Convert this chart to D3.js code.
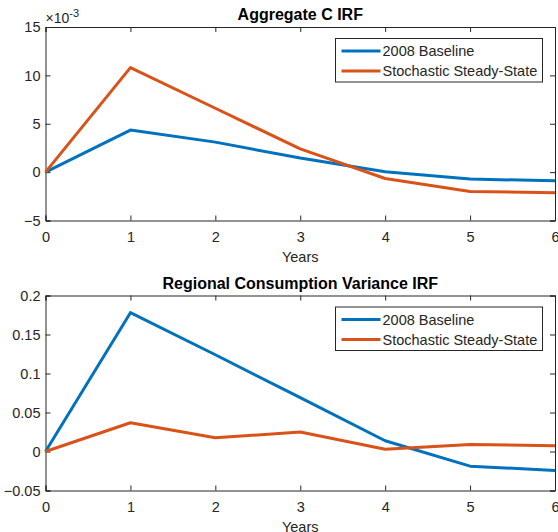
<!DOCTYPE html>
<html>
<head>
<meta charset="utf-8">
<script src="https://cdn.jsdelivr.net/npm/d3@7"></script>
<style>
  body { margin: 0; background: #fff; }
  text { font-family: "Liberation Sans", Arial, sans-serif; fill: #262626; }
</style>
</head>
<body>
<div id="chart"></div>
<script>
// data
var years = [0, 1, 2, 3, 4, 5, 6];
var seriesNames = ["2008 Baseline", "Stochastic Steady-State"];
var colors = ["#0072BD", "#D95319"];

// Aggregate C IRF, values in units of 1e-3
var aggBaseline = [0, 4.35, 3.1, 1.45, 0.03, -0.72, -0.9];
var aggStochastic = [0, 10.8, 6.6, 2.4, -0.66, -2.0, -2.14];
var aggTicks = [-5, 0, 5, 10, 15];

// Regional consumption variance IRF
var regBaseline = [0, 0.178, 0.124, 0.069, 0.0138, -0.0188, -0.0243];
var regStochastic = [0, 0.0369, 0.0176, 0.0249, 0.003, 0.0091, 0.0073];
var regTicks = [-0.05, 0, 0.05, 0.1, 0.15, 0.2];

var svgWidth = 558, svgHeight = 532;
var svg = d3.select("#chart").append("svg")
  .attr("width", svgWidth)
  .attr("height", svgHeight);

var left = 45.5, right = 555;
var fontSize = "14.5px";

function drawPanel(opts) {
  var x = d3.scaleLinear().domain([0, 6]).range([left, right]);
  var y = d3.scaleLinear().domain(opts.domain).range([opts.bottom, opts.top]);
  var g = svg.append("g");

  // ticks (inside, mirrored)
  var xAxis = d3.axisBottom(x).tickValues(years).tickSize(-5).tickPadding(11.5).tickFormat(d3.format("d"));
  var xAxisTop = d3.axisTop(x).tickValues(years).tickSize(-5).tickFormat("");
  var yAxis = d3.axisLeft(y).tickValues(opts.ticks).tickSize(-5).tickPadding(5).tickFormat(opts.fmt);
  var yAxisRight = d3.axisRight(y).tickValues(opts.ticks).tickSize(-5).tickFormat("");

  var axes = [
    g.append("g").attr("transform", "translate(0," + opts.bottom + ")").call(xAxis),
    g.append("g").attr("transform", "translate(0," + opts.top + ")").call(xAxisTop),
    g.append("g").attr("transform", "translate(" + left + ",0)").call(yAxis),
    g.append("g").attr("transform", "translate(" + right + ",0)").call(yAxisRight)
  ];
  axes.forEach(function(a) {
    a.select(".domain").attr("stroke", "#262626");
    a.selectAll(".tick line").attr("stroke", "#262626");
    a.selectAll("text").attr("font-size", fontSize).attr("fill", "#262626")
      .style("font-family", "'Liberation Sans', Arial, sans-serif");
  });

  // lines
  var line = d3.line().x(function(d, i) { return x(years[i]); }).y(function(d) { return y(d); });
  opts.series.forEach(function(s, i) {
    g.append("path")
      .datum(s)
      .attr("d", line)
      .attr("fill", "none")
      .attr("stroke", colors[i])
      .attr("stroke-width", 3)
      .attr("stroke-linejoin", "round");
  });

  // title
  g.append("text")
    .attr("x", (left + right) / 2)
    .attr("y", opts.top - 7)
    .attr("text-anchor", "middle")
    .attr("font-size", "16px")
    .attr("font-weight", "bold")
    .style("fill", "#000")
    .text(opts.title);

  // x label
  g.append("text")
    .attr("x", (left + right) / 2)
    .attr("y", opts.bottom + 41)
    .attr("text-anchor", "middle")
    .attr("font-size", fontSize)
    .text("Years");

  // legend
  var lx = 335.5, ly = opts.top + 11.5, lw = 207, lh = 43.5;
  var legend = g.append("g");
  legend.append("rect")
    .attr("x", lx).attr("y", ly).attr("width", lw).attr("height", lh)
    .attr("fill", "#fff").attr("stroke", "#262626").attr("stroke-width", 1);
  seriesNames.forEach(function(name, i) {
    var cy = ly + 12.5 + i * 20;
    legend.append("line")
      .attr("x1", lx + 6).attr("x2", lx + 45)
      .attr("y1", cy).attr("y2", cy)
      .attr("stroke", colors[i]).attr("stroke-width", 3);
    legend.append("text")
      .attr("x", lx + 47)
      .attr("y", cy + 5)
      .attr("font-size", fontSize)
      .text(name);
  });

  return g;
}

var top1 = drawPanel({
  title: "Aggregate C IRF",
  top: 27, bottom: 220.5,
  domain: [-5, 15], ticks: aggTicks, fmt: d3.format("d"),
  series: [aggBaseline, aggStochastic]
});

// exponent label
var expo = top1.append("text")
  .attr("x", 45.5)
  .attr("y", 22.5)
  .attr("font-size", "14px");
expo.append("tspan").text("\u00d710");
expo.append("tspan").attr("dy", -6).attr("font-size", "11px").text("-3");

drawPanel({
  title: "Regional Consumption Variance IRF",
  top: 295.5, bottom: 490.5,
  domain: [-0.05, 0.2], ticks: regTicks, fmt: function(d) { return d3.format("")(+d.toFixed(2)); },
  series: [regBaseline, regStochastic]
});
</script>
</body>
</html>
